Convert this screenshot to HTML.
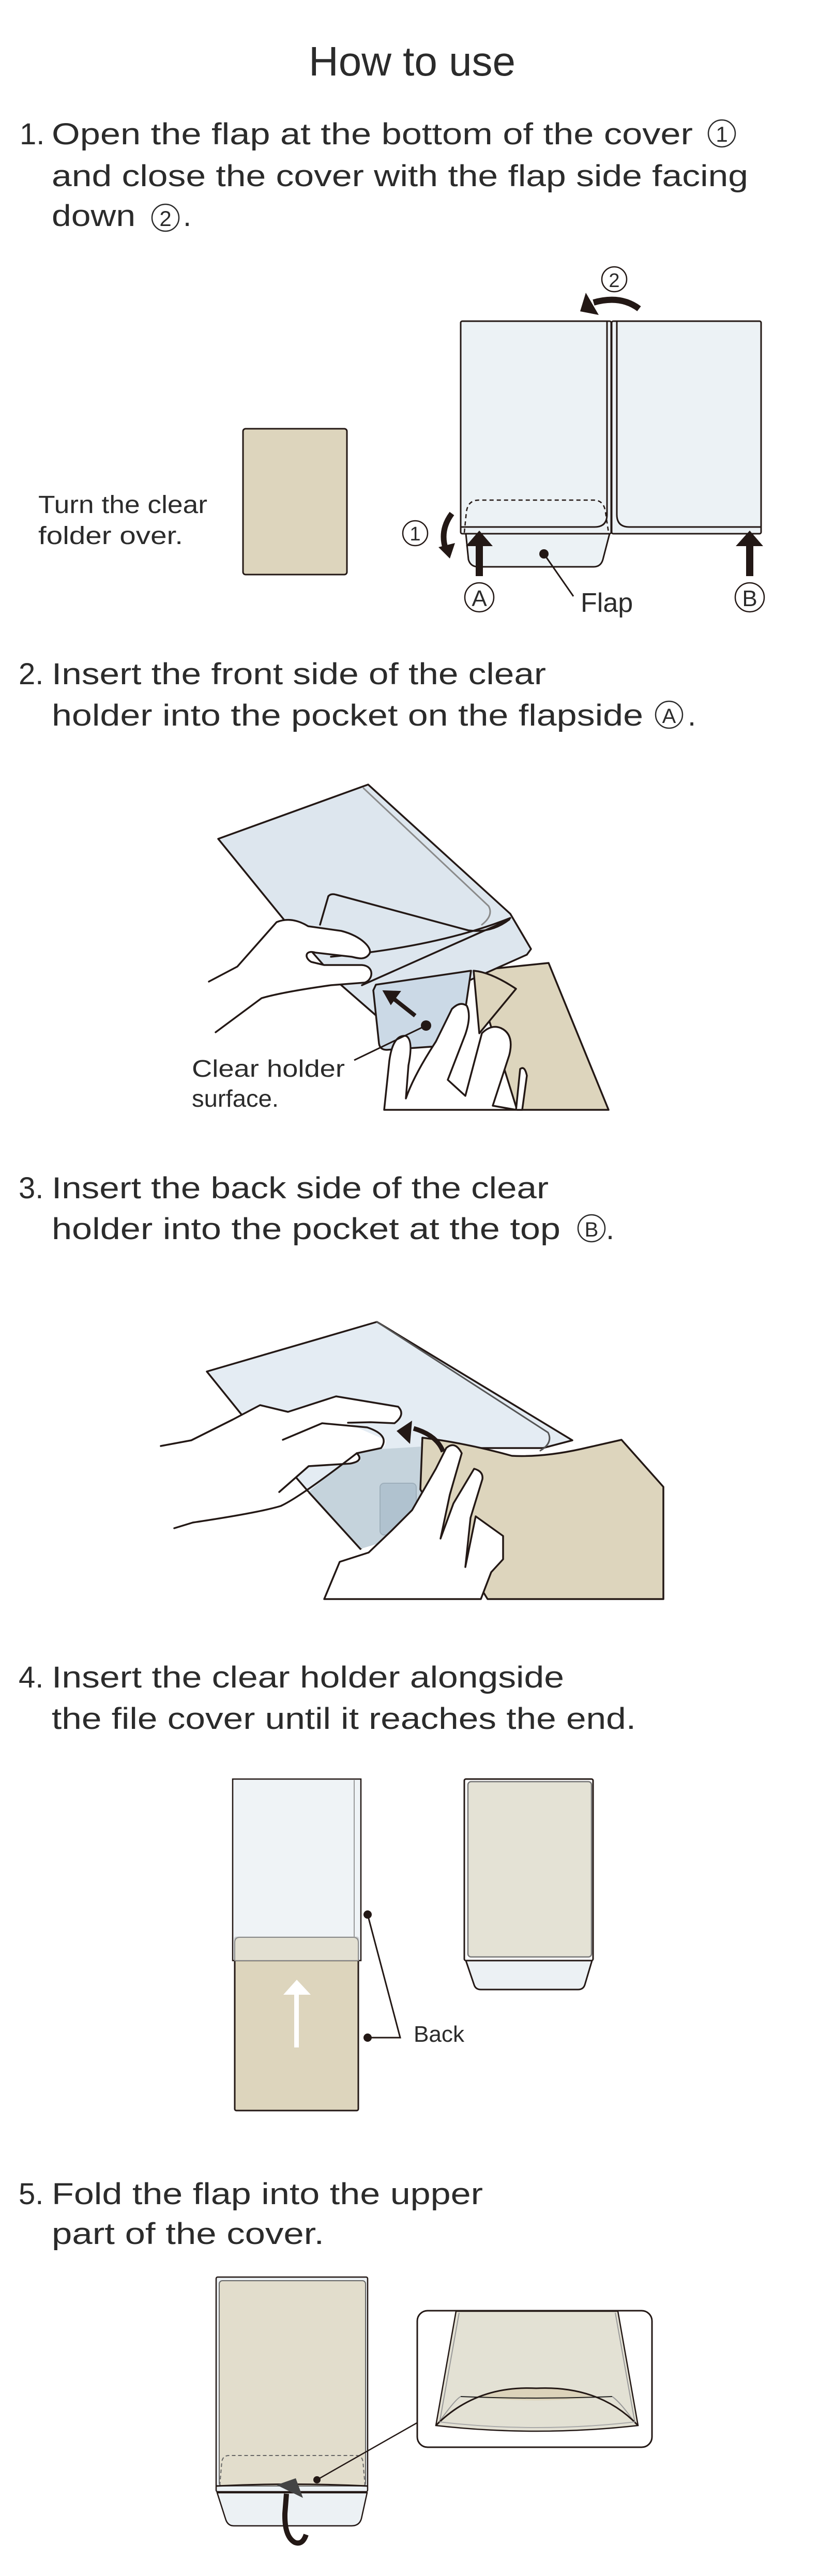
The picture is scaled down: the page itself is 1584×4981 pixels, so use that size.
<!DOCTYPE html>
<html><head><meta charset="utf-8"><style>
html,body{margin:0;padding:0;background:#fff}
svg{display:block}
text{font-family:"Liberation Sans","DejaVu Sans",sans-serif;fill:#2b2b2b}
</style></head><body>
<svg width="1584" height="4981" viewBox="0 0 1584 4981" xmlns="http://www.w3.org/2000/svg">
<g>
<text x="597" y="146" font-size="80" textLength="400" lengthAdjust="spacingAndGlyphs">How to use</text>

<text x="38" y="279" font-size="58">1.</text>
<text x="100" y="279" font-size="58" textLength="1240" lengthAdjust="spacingAndGlyphs">Open the flap at the bottom of the cover</text>
<circle cx="1396" cy="258" r="26" fill="none" stroke="#2b2b2b" stroke-width="2.5"/>
<text x="1396" y="274" font-size="42" text-anchor="middle">1</text>
<text x="100" y="360" font-size="58" textLength="1347" lengthAdjust="spacingAndGlyphs">and close the cover with the flap side facing</text>
<text x="100" y="437" font-size="58" textLength="162" lengthAdjust="spacingAndGlyphs">down</text>
<circle cx="320" cy="421" r="26" fill="none" stroke="#2b2b2b" stroke-width="2.5"/>
<text x="320" y="437" font-size="42" text-anchor="middle">2</text>
<text x="354" y="437" font-size="58">.</text>

<rect x="470" y="829" width="201" height="282" rx="5" fill="#ddd5bd" stroke="#231815" stroke-width="3"/>
<text x="74" y="992" font-size="48" textLength="327" lengthAdjust="spacingAndGlyphs">Turn the clear</text>
<text x="74" y="1052" font-size="48" textLength="280" lengthAdjust="spacingAndGlyphs">folder over.</text>

<g stroke="#231815" stroke-width="3" fill="#ecf2f5">
<path d="M901,1032 L1179,1032 L1166,1082 Q1162,1096 1148,1096 L925,1096 Q910,1096 906,1082 Z"/>
<rect x="891" y="621" width="291" height="411" rx="3"/>
<rect x="1183" y="621" width="289" height="411" rx="3"/>
<path d="M891,1019 H1150 Q1174,1019 1174,995 V621" fill="none"/>
<path d="M1472,1019 H1217 Q1193,1019 1193,995 V621" fill="none"/>
<path d="M898,1030 L902,990 Q905,967 926,967 H1148 Q1168,967 1171,990 L1177,1030" fill="none" stroke-dasharray="8,6" stroke-width="2.5"/>
</g>
<g fill="#231815">
<rect x="920" y="1050" width="14" height="64"/>
<polygon points="901,1056 953,1056 927,1026"/>
<rect x="1443" y="1050" width="14" height="64"/>
<polygon points="1423,1056 1476,1056 1450,1026"/>
<circle cx="1052" cy="1071" r="9"/>
</g>
<line x1="1052" y1="1071" x2="1109" y2="1153" stroke="#231815" stroke-width="3"/>
<text x="1123" y="1183" font-size="52">Flap</text>
<g fill="none" stroke="#231815" stroke-width="2.5">
<circle cx="927" cy="1155" r="28"/><circle cx="1450" cy="1155" r="28"/>
<circle cx="1188" cy="540" r="24"/><circle cx="803" cy="1031" r="24"/>
</g>
<text x="927" y="1172" font-size="44" text-anchor="middle">A</text>
<text x="1450" y="1172" font-size="44" text-anchor="middle">B</text>
<text x="1188" y="555" font-size="38" text-anchor="middle">2</text>
<text x="803" y="1045" font-size="38" text-anchor="middle">1</text>
<path d="M1236,597 Q1200,570 1148,585" fill="none" stroke="#231815" stroke-width="12"/>
<polygon points="1133,566 1122,602 1158,609" fill="#231815"/>
<path d="M874,993 Q850,1025 862,1062" fill="none" stroke="#231815" stroke-width="11"/>
<polygon points="848,1058 880,1050 870,1080" fill="#231815"/>

<text x="36" y="1323" font-size="58">2.</text>
<text x="100" y="1323" font-size="58" textLength="956" lengthAdjust="spacingAndGlyphs">Insert the front side of the clear</text>
<text x="100" y="1403" font-size="58" textLength="1144" lengthAdjust="spacingAndGlyphs">holder into the pocket on the flapside</text>
<circle cx="1294" cy="1382" r="26" fill="none" stroke="#2b2b2b" stroke-width="2.5"/>
<text x="1294" y="1398" font-size="40" text-anchor="middle">A</text>
<text x="1330" y="1403" font-size="58">.</text>

<g stroke="#231815" stroke-width="3.5" stroke-linejoin="round" stroke-linecap="round">
<polygon points="1000,2146 1177,2146 1061,1862 916,1877" fill="#ddd5bd"/>
<polygon points="422,1622 712,1517 987,1767 1027,1835 1019,1846 737,1972 659,1904 553,1783" fill="#dde6ee"/>
<path d="M635,1733 Q640,1727 650,1730 L906,1799 Q950,1805 985,1778" fill="#dde6ee"/>
<path d="M619,1788 L635,1733" fill="none"/>
<path d="M703,1524 L945,1752 Q955,1770 932,1788" fill="none" stroke="#8a8a8a" stroke-width="3"/>
<path d="M640,1850 Q850,1830 987,1775 M700,1905 L985,1778" fill="none"/>
<path d="M727,1904 L911,1877 L890,2020 L748,2030 Q735,2030 733,2018 L722,1915 Z" fill="#cbd9e6"/>
<path d="M916,1877 Q950,1880 998,1912 L927,1998 Z" fill="#ddd5bd"/>
<path d="M404,1898 L459,1869 L535,1783 C555,1775 575,1778 596,1791 L660,1800 C700,1810 722,1835 714,1845 C705,1858 690,1852 680,1850 L610,1842 C590,1836 588,1852 602,1860 L627,1866 L700,1866 C725,1868 722,1895 705,1900 L640,1905 C590,1912 540,1920 506,1930 L417,1996 L380,2040 L380,1910 Z" fill="#fff" stroke="none"/>
<path d="M404,1898 L459,1869 L535,1783 C555,1775 575,1778 596,1791 L660,1800 C700,1810 722,1835 714,1845 C705,1858 690,1852 680,1850 L610,1842 C590,1836 588,1852 602,1860 L627,1866 L700,1866 C725,1868 722,1895 705,1900 L640,1905 C590,1912 540,1920 506,1930 L417,1996" fill="none"/>
<path d="M743,2146 L753,2051 Q760,2000 785,2003 Q800,2010 790,2060 L785,2124 Q800,2080 843,2014 L874,1951 Q890,1935 903,1945 Q912,1965 900,2000 L866,2088 L900,2119 L932,1998 Q950,1980 969,1988 Q995,2000 985,2040 L953,2138 L998,2146 L1006,2067 Q1015,2060 1019,2080 L1010,2146 Z" fill="#fff"/>
</g>
<path d="M803,1964 L760,1930" stroke="#231815" stroke-width="8"/>
<polygon points="743,1917 772,1918 756,1940" fill="#231815" stroke="#231815" stroke-width="4"/>
<circle cx="824" cy="1983" r="10" fill="#231815"/>
<line x1="824" y1="1983" x2="685" y2="2050" stroke="#231815" stroke-width="3"/>
<text x="371" y="2082" font-size="46" textLength="296" lengthAdjust="spacingAndGlyphs">Clear holder</text>
<text x="371" y="2140" font-size="46" textLength="168" lengthAdjust="spacingAndGlyphs">surface.</text>

<text x="36" y="2317" font-size="58">3.</text>
<text x="100" y="2317" font-size="58" textLength="961" lengthAdjust="spacingAndGlyphs">Insert the back side of the clear</text>
<text x="100" y="2396" font-size="58" textLength="984" lengthAdjust="spacingAndGlyphs">holder into the pocket at the top</text>
<circle cx="1144" cy="2375" r="26" fill="none" stroke="#2b2b2b" stroke-width="2.5"/>
<text x="1144" y="2391" font-size="40" text-anchor="middle">B</text>
<text x="1172" y="2396" font-size="58">.</text>

<g stroke="#231815" stroke-width="3.5" stroke-linejoin="round" stroke-linecap="round">
<polygon points="400,2652 729,2556 1107,2785 1050,2800 900,2800 817,2780 813,2880 697,2995 597,2885 467,2735" fill="#e4ecf3"/>
<polygon points="597,2885 690,2805 817,2797 813,2960 697,2995" fill="#c5d3dc" stroke="none"/>
<path d="M597,2885 L697,2995" fill="none"/>
<rect x="735" y="2868" width="70" height="100" rx="8" fill="#b0c2cf" stroke="#9eafbb" stroke-width="2"/>
<path d="M817,2780 Q900,2790 990,2815 Q1050,2818 1123,2802 L1202,2784 L1283,2875 L1283,3092 L943,3092 L813,2880 Z" fill="#ddd5bd"/>
<path d="M729,2556 L1060,2770 Q1070,2790 1045,2805" fill="none" stroke="#555" stroke-width="3"/>
<path d="M311,2796 L370,2785 L450,2745 L503,2717 L557,2730 L650,2700 L770,2720 Q785,2735 763,2752 L717,2750 L673,2751 L690,2760 L747,2785 Q745,2800 737,2800 L690,2810 L697,2825 L677,2830 L597,2835 L540,2885 L597,2885 L543,2912 L373,2944 L337,2955 L290,2960 L290,2790 Z" fill="#fff" stroke="none"/>
<path d="M311,2796 L370,2785 L450,2745 L503,2717 L557,2730 L650,2700 L770,2720 Q785,2735 763,2752 L717,2750 L673,2751" fill="none"/>
<path d="M547,2784 L623,2752 L710,2760 Q755,2775 737,2800 L690,2810 Q705,2825 677,2830 L597,2835 L540,2885" fill="none"/>
<path d="M337,2955 L373,2944 Q500,2925 543,2912 Q580,2895 690,2810" fill="none"/>
<path d="M627,3092 L657,3020 L713,3002 L757,2960 L797,2920 L843,2840 L863,2800 Q880,2785 893,2810 L870,2890 L852,2975 L877,2907 L917,2840 Q935,2845 933,2860 L910,2935 L900,3030 L920,2932 L973,2970 L973,3015 L950,3040 L930,3092 Z" fill="#fff"/>
</g>
<path d="M857,2807 Q845,2775 800,2762" fill="none" stroke="#231815" stroke-width="9"/>
<polygon points="767,2767 797,2747 793,2792" fill="#231815"/>

<text x="36" y="3263" font-size="58">4.</text>
<text x="100" y="3263" font-size="58" textLength="991" lengthAdjust="spacingAndGlyphs">Insert the clear holder alongside</text>
<text x="100" y="3343" font-size="58" textLength="1130" lengthAdjust="spacingAndGlyphs">the file cover until it reaches the end.</text>

<rect x="454" y="3746" width="239" height="335" rx="3" fill="#ddd5bd" stroke="#231815" stroke-width="3"/>
<rect x="450" y="3440" width="248" height="351" fill="#ecf1f4" fill-opacity="0.85" stroke="#231815" stroke-width="2.5"/>
<path d="M454,3791 V3756 Q454,3746 464,3746 H683 Q693,3746 693,3756 V3791 Z" fill="#e3e0d2" stroke="#8a8a8a" stroke-width="2"/>
<line x1="685" y1="3442" x2="685" y2="3746" stroke="#999" stroke-width="2"/>
<rect x="569" y="3855" width="9" height="104" fill="#fff"/>
<polygon points="548,3857 601,3857 574,3828" fill="#fff"/>
<circle cx="711" cy="3702" r="8" fill="#231815"/>
<circle cx="711" cy="3940" r="8" fill="#231815"/>
<polyline points="711,3702 774,3940 711,3940" fill="none" stroke="#231815" stroke-width="3"/>
<text x="800" y="3948" font-size="44" textLength="98" lengthAdjust="spacingAndGlyphs">Back</text>
<path d="M901,3791 L1145,3791 L1131,3838 Q1128,3847 1118,3847 L930,3847 Q920,3847 917,3838 Z" fill="#ecf1f4" stroke="#231815" stroke-width="3"/>
<rect x="898" y="3440" width="249" height="351" rx="3" fill="#fff" stroke="#231815" stroke-width="3"/>
<rect x="905" y="3445" width="239" height="339" rx="6" fill="#e4e2d5" stroke="#777" stroke-width="2.5"/>

<text x="36" y="4262" font-size="58">5.</text>
<text x="100" y="4262" font-size="58" textLength="834" lengthAdjust="spacingAndGlyphs">Fold the flap into the upper</text>
<text x="100" y="4339" font-size="58" textLength="527" lengthAdjust="spacingAndGlyphs">part of the cover.</text>

<path d="M420,4820 L710,4820 L699,4870 Q695,4884 680,4884 L452,4884 Q440,4884 436,4870 Z" fill="#ecf1f4" stroke="#231815" stroke-width="2.5"/>
<rect x="418" y="4403" width="293" height="415" rx="3" fill="#ecf1f4" stroke="#231815" stroke-width="2.5"/>
<rect x="424" y="4410" width="283" height="397" rx="6" fill="#e2ddcc" stroke="#666" stroke-width="2"/>
<path d="M425,4806 L429,4760 Q431,4748 443,4748 H690 Q700,4748 702,4760 L706,4806" fill="none" stroke="#666" stroke-width="2" stroke-dasharray="7,5"/>
<path d="M418,4807 Q564,4800 711,4807" fill="none" stroke="#231815" stroke-width="3"/>
<path d="M592,4901 Q585,4922 570,4916 Q550,4905 551,4860 L554,4822" fill="none" stroke="#231815" stroke-width="10"/>
<polygon points="535,4805 572,4792 586,4830" fill="#444"/>
<circle cx="613" cy="4795" r="7" fill="#231815"/>
<line x1="613" y1="4795" x2="808" y2="4684" stroke="#231815" stroke-width="2.5"/>
<rect x="807" y="4468" width="454" height="264" rx="20" fill="#fff" stroke="#231815" stroke-width="3"/>
<path d="M882,4469 L1195,4469 L1234,4690 Q1037,4712 843,4690 Z" fill="#e3e1d4" stroke="#231815" stroke-width="2.5"/>
<path d="M888,4472 L850,4685 M1190,4472 L1228,4685" stroke="#999" stroke-width="2" fill="none"/>
<path d="M919,4635 Q1037,4600 1156,4635 Q1037,4648 919,4635 Z" fill="#dcd3ba"/>
<path d="M891,4634 Q1037,4640 1184,4634" fill="none" stroke="#222" stroke-width="2"/>
<path d="M848,4685 Q880,4640 891,4634 M1184,4634 Q1200,4645 1228,4685" fill="none" stroke="#999" stroke-width="2"/>
<path d="M843,4690 Q920,4612 1037,4618 Q1160,4612 1234,4690" fill="none" stroke="#231815" stroke-width="3"/>
<path d="M850,4683 Q1037,4705 1228,4683" fill="none" stroke="#aaa" stroke-width="2"/>
</g>
</svg>
</body></html>
